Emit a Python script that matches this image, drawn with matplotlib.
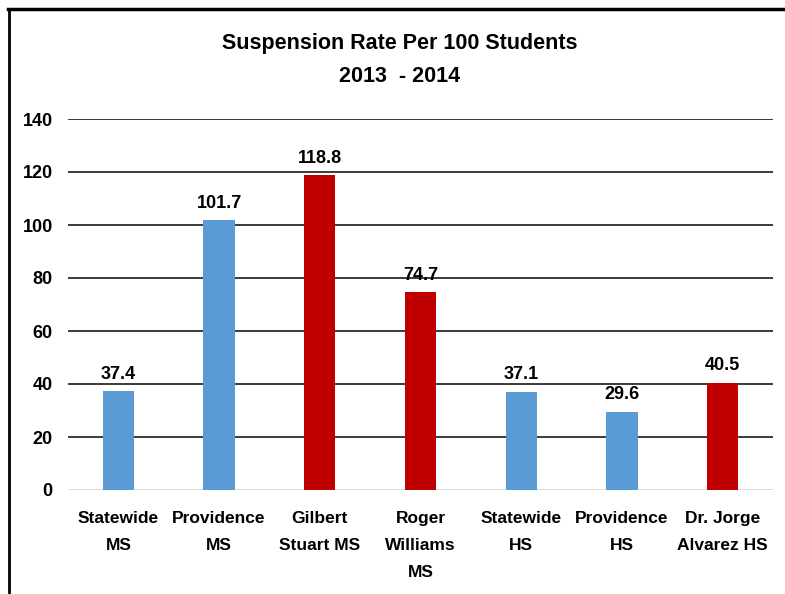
import matplotlib
matplotlib.use("Agg")
import matplotlib.pyplot as plt
from matplotlib.lines import Line2D

FONT = ["Liberation Sans Narrow", "Liberation Sans", "DejaVu Sans"]
plt.rcParams["font.family"] = FONT

schools = ["Statewide\nMS", "Providence\nMS", "Gilbert\nStuart MS", "Roger\nWilliams\nMS",
           "Statewide\nHS", "Providence\nHS", "Dr. Jorge\nAlvarez HS"]
rates = [37.4, 101.7, 118.8, 74.7, 37.1, 29.6, 40.5]
highlight = [False, False, True, True, False, False, True]
yticks = [0, 20, 40, 60, 80, 100, 120, 140]

BLUE = "#5B9BD5"
RED = "#C00000"

W, H = 785, 594
fig = plt.figure(figsize=(W / 100, H / 100), dpi=100)
ax = fig.add_axes([68 / W, 1 - 490 / H, (773 - 68) / W, (490 - 119) / H])

x = range(len(schools))
colors = [RED if h else BLUE for h in highlight]
ax.bar(x, rates, width=0.31, color=colors, zorder=3)
ax.set_xlim(-0.5, len(schools) - 0.5)
ax.set_ylim(0, 140)

for i, v in zip(x, rates):
    ax.annotate(f"{v}", (i, v), xytext=(0, 6), textcoords="offset points",
                ha="center", va="bottom", fontsize=13, fontweight="bold")

ax.set_yticks(yticks)
ax.set_yticklabels([str(t) for t in yticks], fontsize=13, fontweight="bold")
for t in yticks[1:]:
    ax.axhline(t, color="#1a1a1a", lw=1.2, zorder=1)
ax.axhline(0, color="#D9D9D9", lw=1.3, zorder=2)
ax.tick_params(axis="y", length=0, pad=11)
ax.tick_params(axis="x", length=0, pad=15)
ax.set_xticks(list(x))
ax.set_xticklabels(schools, fontsize=12.5, fontweight="bold", linespacing=2.0, va="top")
for s in ax.spines.values():
    s.set_visible(False)

fig.text(400 / W, 1 - 43 / H, "Suspension Rate Per 100 Students", ha="center", va="center",
         fontsize=15.5, fontweight="bold")
fig.text(400 / W, 1 - 76 / H, "2013  - 2014", ha="center", va="center",
         fontsize=15.5, fontweight="bold")

# chart frame (top and left edges visible)
fig.add_artist(Line2D([8 / W, 1], [1 - 8.5 / H] * 2, transform=fig.transFigure, color="black", lw=2.5))
fig.add_artist(Line2D([8.5 / W] * 2, [0, 1 - 8.5 / H], transform=fig.transFigure, color="black", lw=2))

fig.savefig("out.png", dpi=100, facecolor="white")
plt.close(fig)
